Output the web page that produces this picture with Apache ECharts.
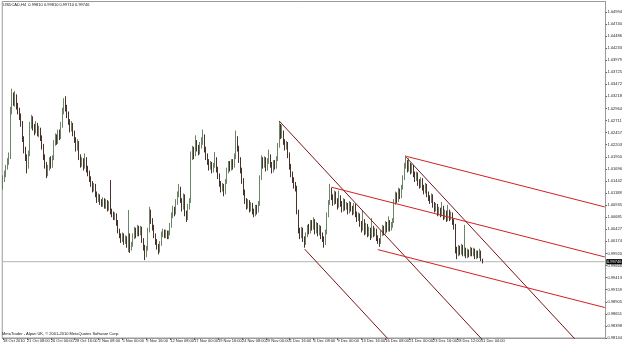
<!DOCTYPE html>
<html><head><meta charset="utf-8">
<script src="https://cdn.jsdelivr.net/npm/echarts@6/dist/echarts.min.js"></script>
<style>html,body{margin:0;padding:0;background:#fff}#c{width:625px;height:346px}</style>
</head><body><div id="c"></div>
<script>
// bar slots (H4 bars, index counted from 18 Oct 2010 00:00); data starts at firstBar
const firstBar = 4, lastSlot = 407;

const opens = [
1.0140,1.0148,1.0160,1.0172,1.0185,1.0196,1.0290,1.0322,1.0310,1.0318,
1.0300,1.0292,1.0280,1.0265,1.0232,1.0210,1.0195,1.0178,1.0200,1.0262,
1.0274,1.0258,1.0250,1.0262,1.0246,1.0252,1.0236,1.0218,1.0196,1.0180,
1.0160,1.0172,1.0188,1.0178,1.0192,1.0224,1.0236,1.0228,1.0245,1.0238,
1.0262,1.0290,1.0312,1.0298,1.0284,1.0270,1.0254,1.0262,1.0246,1.0232,
1.0214,1.0224,1.0196,1.0180,1.0188,1.0175,1.0190,1.0170,1.0162,1.0150,
1.0140,1.0128,1.0134,1.0118,1.0105,1.0112,1.0100,1.0096,1.0104,1.0092,
1.0100,1.0088,1.0096,1.0080,1.0076,1.0068,1.0072,1.0058,1.0040,1.0030,
1.0022,1.0030,1.0018,1.0024,1.0012,1.0030,1.0004,1.0010,1.0028,1.0040,
1.0032,1.0046,1.0036,1.0044,1.0020,1.0006,0.9990,1.0002,1.0040,1.0078,
1.0062,1.0048,1.0030,1.0018,1.0008,0.9998,1.0012,1.0032,1.0038,1.0030,
1.0036,1.0028,1.0034,1.0050,1.0072,1.0086,1.0078,1.0100,1.0116,1.0128,
1.0104,1.0088,1.0112,1.0078,1.0066,1.0090,1.0102,1.0196,1.0210,1.0200,
1.0222,1.0214,1.0206,1.0218,1.0228,1.0238,1.0212,1.0196,1.0186,1.0174,
1.0180,1.0168,1.0176,1.0190,1.0170,1.0156,1.0140,1.0128,1.0134,1.0120,
1.0142,1.0166,1.0180,1.0172,1.0184,1.0176,1.0196,1.0232,1.0214,1.0190,
1.0168,1.0146,1.0122,1.0104,1.0092,1.0100,1.0084,1.0094,1.0080,1.0076,
1.0088,1.0082,1.0096,1.0150,1.0188,1.0178,1.0190,1.0172,1.0186,1.0196,
1.0180,1.0168,1.0182,1.0176,1.0190,1.0218,1.0258,1.0240,1.0246,1.0228,
1.0216,1.0222,1.0200,1.0176,1.0160,1.0148,1.0136,1.0130,1.0080,1.0040,
1.0030,1.0042,1.0024,1.0014,1.0030,1.0046,1.0040,1.0056,1.0048,1.0060,
1.0040,1.0052,1.0036,1.0046,1.0030,1.0024,1.0014,1.0036,1.0072,1.0098,
1.0126,1.0112,1.0100,1.0118,1.0104,1.0092,1.0110,1.0098,1.0086,1.0102,
1.0090,1.0094,1.0082,1.0096,1.0088,1.0080,1.0092,1.0076,1.0066,1.0072,
1.0056,1.0044,1.0060,1.0038,1.0050,1.0034,1.0042,1.0028,1.0046,1.0034,
1.0040,1.0026,1.0020,1.0016,1.0034,1.0046,1.0038,1.0054,1.0044,1.0058,
1.0046,1.0052,1.0060,1.0100,1.0116,1.0106,1.0124,1.0114,1.0130,1.0150,
1.0176,1.0184,1.0170,1.0178,1.0166,1.0174,1.0160,1.0150,1.0158,1.0142,
1.0136,1.0146,1.0132,1.0124,1.0134,1.0118,1.0110,1.0104,1.0112,1.0096,
1.0086,1.0092,1.0078,1.0084,1.0076,1.0088,1.0070,1.0078,1.0066,1.0080,
1.0068,1.0074,1.0060,1.0050,1.0000,0.9990,1.0004,0.9996,1.0006,0.9992,
0.9998,0.9988,0.9996,0.9990,1.0000,0.9992,0.9998,0.9986,0.9994,0.9988,
0.9996,0.99810];

const closes = [
1.0148,1.0160,1.0172,1.0185,1.0196,1.0290,1.0322,1.0310,1.0318,1.0300,
1.0292,1.0280,1.0265,1.0232,1.0210,1.0195,1.0178,1.0200,1.0262,1.0274,
1.0258,1.0250,1.0262,1.0246,1.0252,1.0236,1.0218,1.0196,1.0180,1.0160,
1.0172,1.0188,1.0178,1.0192,1.0224,1.0236,1.0228,1.0245,1.0238,1.0262,
1.0290,1.0312,1.0298,1.0284,1.0270,1.0254,1.0262,1.0246,1.0232,1.0214,
1.0224,1.0196,1.0180,1.0188,1.0175,1.0190,1.0170,1.0162,1.0150,1.0140,
1.0128,1.0134,1.0118,1.0105,1.0112,1.0100,1.0096,1.0104,1.0092,1.0100,
1.0088,1.0096,1.0080,1.0076,1.0068,1.0072,1.0058,1.0040,1.0030,1.0022,
1.0030,1.0018,1.0024,1.0012,1.0030,1.0004,1.0010,1.0028,1.0040,1.0032,
1.0046,1.0036,1.0044,1.0020,1.0006,0.9990,1.0002,1.0040,1.0078,1.0062,
1.0048,1.0030,1.0018,1.0008,0.9998,1.0012,1.0032,1.0038,1.0030,1.0036,
1.0028,1.0034,1.0050,1.0072,1.0086,1.0078,1.0100,1.0116,1.0128,1.0104,
1.0088,1.0112,1.0078,1.0066,1.0090,1.0102,1.0196,1.0210,1.0200,1.0222,
1.0214,1.0206,1.0218,1.0228,1.0238,1.0212,1.0196,1.0186,1.0174,1.0180,
1.0168,1.0176,1.0190,1.0170,1.0156,1.0140,1.0128,1.0134,1.0120,1.0142,
1.0166,1.0180,1.0172,1.0184,1.0176,1.0196,1.0232,1.0214,1.0190,1.0168,
1.0146,1.0122,1.0104,1.0092,1.0100,1.0084,1.0094,1.0080,1.0076,1.0088,
1.0082,1.0096,1.0150,1.0188,1.0178,1.0190,1.0172,1.0186,1.0196,1.0180,
1.0168,1.0182,1.0176,1.0190,1.0218,1.0258,1.0240,1.0246,1.0228,1.0216,
1.0222,1.0200,1.0176,1.0160,1.0148,1.0136,1.0130,1.0080,1.0040,1.0030,
1.0042,1.0024,1.0014,1.0030,1.0046,1.0040,1.0056,1.0048,1.0060,1.0040,
1.0052,1.0036,1.0046,1.0030,1.0024,1.0014,1.0036,1.0072,1.0098,1.0126,
1.0112,1.0100,1.0118,1.0104,1.0092,1.0110,1.0098,1.0086,1.0102,1.0090,
1.0094,1.0082,1.0096,1.0088,1.0080,1.0092,1.0076,1.0066,1.0072,1.0056,
1.0044,1.0060,1.0038,1.0050,1.0034,1.0042,1.0028,1.0046,1.0034,1.0040,
1.0026,1.0020,1.0016,1.0034,1.0046,1.0038,1.0054,1.0044,1.0058,1.0046,
1.0052,1.0060,1.0100,1.0116,1.0106,1.0124,1.0114,1.0130,1.0150,1.0176,
1.0184,1.0170,1.0178,1.0166,1.0174,1.0160,1.0150,1.0158,1.0142,1.0136,
1.0146,1.0132,1.0124,1.0134,1.0118,1.0110,1.0104,1.0112,1.0096,1.0086,
1.0092,1.0078,1.0084,1.0076,1.0088,1.0070,1.0078,1.0066,1.0080,1.0068,
1.0074,1.0060,1.0050,1.0000,0.9990,1.0004,0.9996,1.0006,0.9992,0.9998,
0.9988,0.9996,0.9990,1.0000,0.9992,0.9998,0.9986,0.9994,0.9988,0.9996,
0.9981,0.99746];

const lows = [
1.0126,1.0142,1.0152,1.0168,1.0178,1.0190,1.0284,1.0302,1.0300,1.0294,
1.0284,1.0272,1.0258,1.0226,1.0202,1.0186,1.0160,1.0170,1.0196,1.0254,
1.0250,1.0240,1.0244,1.0238,1.0236,1.0228,1.0210,1.0188,1.0170,1.0150,
1.0154,1.0166,1.0170,1.0172,1.0188,1.0218,1.0220,1.0222,1.0230,1.0232,
1.0256,1.0284,1.0290,1.0276,1.0262,1.0246,1.0248,1.0238,1.0224,1.0206,
1.0208,1.0188,1.0172,1.0174,1.0166,1.0170,1.0162,1.0154,1.0142,1.0132,
1.0120,1.0122,1.0110,1.0098,1.0100,1.0094,1.0090,1.0090,1.0086,1.0086,
1.0080,1.0082,1.0074,1.0068,1.0062,1.0062,1.0050,1.0034,1.0024,1.0014,
1.0016,1.0010,1.0012,1.0004,0.9995,0.9993,0.9998,1.0006,1.0022,1.0024,
1.0028,1.0028,1.0030,1.0014,0.9998,0.9978,0.9984,0.9998,1.0036,1.0054,
1.0040,1.0024,1.0010,1.0000,0.9990,0.9994,1.0008,1.0026,1.0024,1.0024,
1.0022,1.0022,1.0030,1.0046,1.0066,1.0070,1.0074,1.0094,1.0110,1.0098,
1.0080,1.0084,1.0070,1.0058,1.0062,1.0084,1.0098,1.0188,1.0190,1.0196,
1.0206,1.0198,1.0200,1.0212,1.0220,1.0204,1.0188,1.0178,1.0166,1.0168,
1.0160,1.0162,1.0172,1.0162,1.0148,1.0132,1.0120,1.0122,1.0112,1.0116,
1.0138,1.0160,1.0164,1.0166,1.0168,1.0172,1.0190,1.0206,1.0182,1.0160,
1.0138,1.0114,1.0096,1.0084,1.0086,1.0078,1.0080,1.0074,1.0068,1.0070,
1.0074,1.0078,1.0092,1.0146,1.0170,1.0172,1.0164,1.0166,1.0180,1.0172,
1.0160,1.0162,1.0168,1.0170,1.0186,1.0214,1.0232,1.0234,1.0220,1.0208,
1.0210,1.0192,1.0168,1.0152,1.0140,1.0128,1.0122,1.0074,1.0034,1.0022,
1.0024,1.0016,1.0004,1.0010,1.0026,1.0032,1.0034,1.0040,1.0042,1.0032,
1.0034,1.0028,1.0030,1.0022,1.0016,1.0004,1.0010,1.0032,1.0068,1.0094,
1.0104,1.0092,1.0094,1.0096,1.0084,1.0088,1.0090,1.0078,1.0080,1.0082,
1.0084,1.0074,1.0076,1.0080,1.0072,1.0074,1.0068,1.0058,1.0060,1.0048,
1.0036,1.0040,1.0030,1.0032,1.0026,1.0028,1.0020,1.0024,1.0026,1.0028,
1.0018,1.0012,1.0006,1.0012,1.0028,1.0030,1.0032,1.0036,1.0038,1.0038,
1.0040,1.0046,1.0056,1.0094,1.0098,1.0100,1.0106,1.0108,1.0126,1.0146,
1.0170,1.0162,1.0164,1.0158,1.0160,1.0152,1.0142,1.0144,1.0134,1.0128,
1.0130,1.0124,1.0116,1.0118,1.0110,1.0102,1.0096,1.0098,1.0088,1.0078,
1.0080,1.0070,1.0072,1.0068,1.0070,1.0062,1.0064,1.0058,1.0060,1.0060,
1.0062,1.0052,1.0042,0.9992,0.9980,0.9986,0.9988,0.9990,0.9986,0.9986,
0.9982,0.9982,0.9984,0.9986,0.9986,0.9986,0.9980,0.9980,0.9982,0.9982,
0.9976,0.99710];

const highs = [
1.0156,1.0166,1.0178,1.0192,1.0204,1.0300,1.0338,1.0330,1.0333,1.0326,
1.0308,1.0298,1.0286,1.0270,1.0238,1.0216,1.0200,1.0208,1.0268,1.0283,
1.0280,1.0264,1.0270,1.0266,1.0260,1.0256,1.0240,1.0222,1.0200,1.0184,
1.0178,1.0194,1.0196,1.0198,1.0230,1.0244,1.0242,1.0252,1.0252,1.0268,
1.0298,1.0318,1.0322,1.0304,1.0290,1.0274,1.0270,1.0266,1.0250,1.0236,
1.0232,1.0228,1.0200,1.0194,1.0192,1.0202,1.0194,1.0176,1.0166,1.0154,
1.0144,1.0140,1.0138,1.0122,1.0118,1.0116,1.0106,1.0110,1.0108,1.0106,
1.0104,1.0102,1.0146,1.0086,1.0080,1.0078,1.0076,1.0062,1.0044,1.0034,
1.0036,1.0034,1.0030,1.0028,1.0083,1.0034,1.0016,1.0034,1.0048,1.0046,
1.0052,1.0050,1.0050,1.0048,1.0024,1.0010,1.0008,1.0046,1.0090,1.0084,
1.0066,1.0052,1.0034,1.0022,1.0012,1.0018,1.0038,1.0044,1.0042,1.0042,
1.0040,1.0040,1.0056,1.0078,1.0092,1.0090,1.0106,1.0122,1.0138,1.0132,
1.0108,1.0118,1.0116,1.0082,1.0096,1.0108,1.0206,1.0218,1.0216,1.0240,
1.0230,1.0220,1.0226,1.0236,1.0252,1.0242,1.0216,1.0202,1.0190,1.0186,
1.0184,1.0182,1.0205,1.0194,1.0174,1.0160,1.0144,1.0140,1.0138,1.0148,
1.0172,1.0186,1.0186,1.0190,1.0190,1.0202,1.0250,1.0238,1.0218,1.0194,
1.0172,1.0150,1.0126,1.0108,1.0106,1.0104,1.0100,1.0098,1.0086,1.0094,
1.0094,1.0102,1.0156,1.0198,1.0194,1.0196,1.0194,1.0192,1.0210,1.0200,
1.0184,1.0188,1.0188,1.0196,1.0224,1.0270,1.0264,1.0262,1.0250,1.0232,
1.0228,1.0226,1.0204,1.0180,1.0164,1.0152,1.0142,1.0134,1.0084,1.0046,
1.0048,1.0046,1.0028,1.0036,1.0052,1.0054,1.0062,1.0062,1.0068,1.0064,
1.0058,1.0056,1.0052,1.0050,1.0036,1.0028,1.0042,1.0078,1.0104,1.0138,
1.0130,1.0116,1.0124,1.0122,1.0108,1.0124,1.0114,1.0102,1.0108,1.0106,
1.0100,1.0098,1.0102,1.0100,1.0092,1.0098,1.0096,1.0080,1.0078,1.0076,
1.0060,1.0082,1.0064,1.0056,1.0054,1.0048,1.0046,1.0066,1.0050,1.0046,
1.0044,1.0030,1.0024,1.0040,1.0052,1.0050,1.0060,1.0058,1.0070,1.0062,
1.0058,1.0066,1.0106,1.0122,1.0120,1.0130,1.0128,1.0136,1.0156,1.0182,
1.0198,1.0188,1.0192,1.0182,1.0180,1.0178,1.0164,1.0164,1.0162,1.0148,
1.0152,1.0150,1.0136,1.0140,1.0138,1.0122,1.0114,1.0118,1.0116,1.0100,
1.0098,1.0096,1.0090,1.0088,1.0100,1.0092,1.0084,1.0082,1.0094,1.0084,
1.0080,1.0078,1.0064,1.0054,1.0006,1.0010,1.0008,1.0012,1.0010,1.0052,
1.0004,1.0002,1.0000,1.0006,1.0004,1.0004,1.0002,0.9998,0.9998,1.0002,
0.9998,0.99810];

// time-axis tick labels: [bar index, text]
const timeTicks = [
[4,'18 Oct 2010'],[20,'21 Oct 08:00'],[36,'26 Oct 00:00'],[52,'28 Oct 16:00'],
[68,'2 Nov 08:00'],[84,'5 Nov 00:00'],[100,'9 Nov 16:00'],[116,'12 Nov 08:00'],
[132,'17 Nov 00:00'],[148,'19 Nov 16:00'],[164,'24 Nov 08:00'],[180,'29 Nov 00:00'],
[196,'1 Dec 16:00'],[212,'6 Dec 08:00'],[228,'9 Dec 00:00'],[244,'13 Dec 16:00'],
[260,'16 Dec 08:00'],[276,'21 Dec 00:00'],[292,'23 Dec 16:00'],[308,'28 Dec 12:00'],
[324,'31 Dec 04:00']];

// price scale
const priceMin = 0.98144, priceMax = 1.05210, priceStep = 0.002537;
const currentPrice = 0.99746;

// trend lines: [[bar, price],[bar, price]]
const maroonLines = [
 [[189,1.0270],[330,0.97939]],
 [[206,1.0001],[270,0.97849]],
 [[274,1.0194],[400,0.97685]]];
const redLines = [
 [[274,1.0196],[407,1.00896]],
 [[224,1.0131],[407,0.99846]],
 [[255,1.0000],[407,0.98784]]];

const headerText = 'USDCAD,H4  0.99810 0.99810 0.99710 0.99746';
const footerText = 'MetaTrader - Alpari UK, \u00A9 2001-2010 MetaQuotes Software Corp.';

// ---- build ----
const slots = [];
for (let b = firstBar; b <= lastSlot; b++) slots.push(String(b));
const candleData = opens.map((o, k) => [o, closes[k], lows[k], highs[k]]);
const tickMap = {};
timeTicks.forEach(t => { tickMap[t[0] - firstBar] = t[1]; });
const isTick = (idx) => tickMap[idx] !== undefined;

const FONT = 'Liberation Sans';
const lineSeries = [];
maroonLines.forEach(l => lineSeries.push({type:'line', silent:true, showSymbol:false, symbol:'none', clip:true,
  data: l.map(p => [String(p[0]), p[1]]), lineStyle:{color:'#7d1414', width:1}, z:3}));
redLines.forEach(l => lineSeries.push({type:'line', silent:true, showSymbol:false, symbol:'none', clip:true,
  data: l.map(p => [String(p[0]), p[1]]), lineStyle:{color:'#d42020', width:1}, z:3}));
// current bid line with price box
lineSeries.push({type:'line', silent:true, showSymbol:false, symbol:'none', z:1,
  data: [[slots[0], currentPrice], [slots[slots.length - 1], currentPrice]],
  lineStyle:{color:'#b4b4b4', width:1},
  endLabel:{show:true, distance:1.5, formatter:()=>currentPrice.toFixed(5), fontSize:4, fontFamily:FONT,
    color:'#fff', backgroundColor:'#000', padding:[0.6,0.6]}});

const chart = echarts.init(document.getElementById('c'), null, {renderer:'canvas'});
chart.setOption({
  animation:false,
  backgroundColor:'#ffffff',
  grid:{left:0.5, right:14.5, top:1.5, bottom:8, containLabel:false,
        show:true, borderColor:'#9a9a9a', borderWidth:1, backgroundColor:'transparent'},
  xAxis:{type:'category', data:slots, boundaryGap:true,
    axisLine:{show:true, lineStyle:{color:'#9a9a9a'}},
    axisTick:{show:true, interval:(i)=>isTick(i), alignWithLabel:true, length:2, lineStyle:{color:'#666'}},
    axisLabel:{show:true, interval:(i)=>isTick(i), formatter:(v,i)=>tickMap[i]||'', align:'left',
      fontSize:4, fontFamily:FONT, color:'#222', margin:1},
    splitLine:{show:false}},
  yAxis:{type:'value', position:'right', min:priceMin, max:priceMax, interval:priceStep, scale:true,
    axisLine:{show:true, lineStyle:{color:'#9a9a9a'}},
    axisTick:{show:true, length:1.5, lineStyle:{color:'#666'}},
    axisLabel:{show:true, formatter:(v)=>v.toFixed(5), fontSize:4, fontFamily:FONT, color:'#222', margin:2, showMaxLabel:false},
    splitLine:{show:false}},
  series:[
    {type:'candlestick', data:candleData, barWidth:'75%', z:2,
      itemStyle:{color:'#c2d0bf', color0:'#43241d', borderColor:'#5b7656', borderColor0:'#341a14', borderWidth:0.9}},
    ...lineSeries
  ],
  graphic:[
    {type:'text', left:3, top:3, style:{text:headerText, fontSize:4, fontFamily:FONT, fill:'#111'}},
    {type:'text', left:2, top:332, style:{text:footerText, fontSize:4, fontFamily:FONT, fill:'#111'}}
  ]
});
</script></body></html>
